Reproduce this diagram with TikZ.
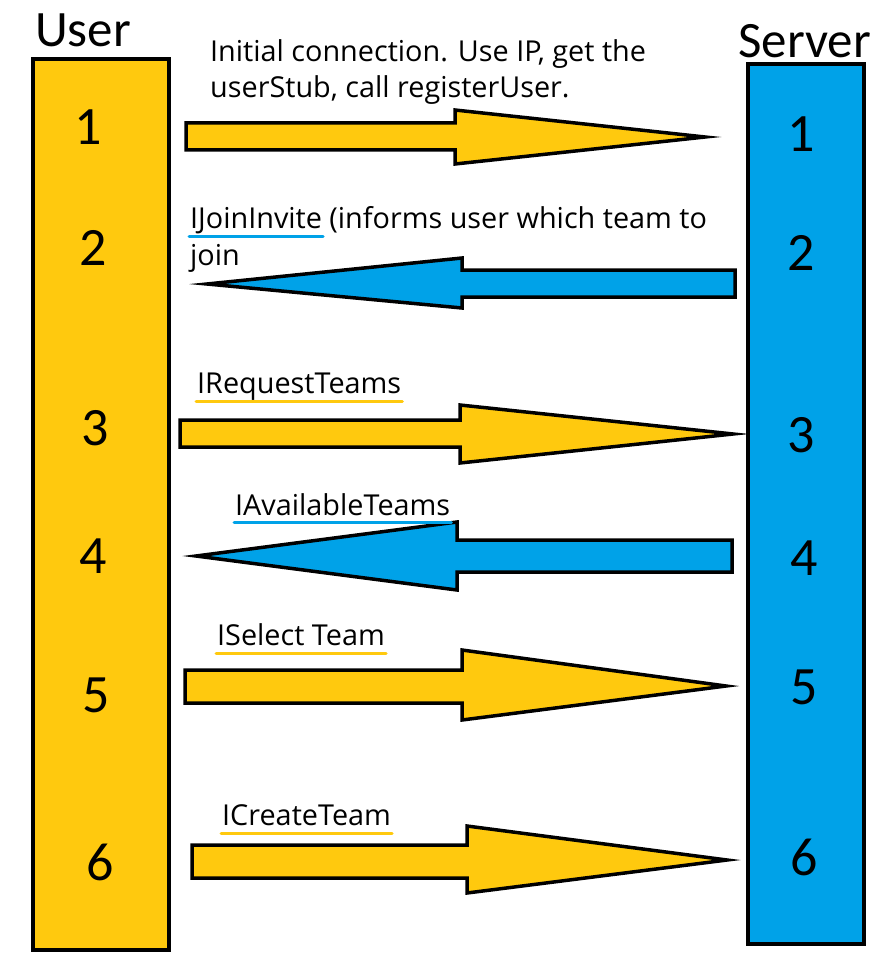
\documentclass[tikz,border=0pt]{standalone}
\usepackage{fontspec}
\setmainfont{Carlito}
\newfontfamily\lblfont{Open Sans}
\usetikzlibrary{calc}
\definecolor{uyel}{HTML}{FFC90E}
\definecolor{sblu}{HTML}{00A2E8}
\begin{document}
\begin{tikzpicture}[x=1pt,y=-1pt,
  lane/.style={draw=black,line width=4pt,inner sep=0pt,anchor=north west},
  blockarr/.style={draw=black,line width=3.5pt,line join=miter,miter limit=30},
  title/.style={font=\fontsize{51}{60}\selectfont,inner sep=0pt,anchor=base west},
  num/.style={font=\fontsize{54}{62}\selectfont,inner sep=0pt,anchor=base},
  lbl/.style={font=\lblfont\fontsize{28.8}{34}\selectfont,inner sep=0pt,anchor=base west},
  uline/.style={draw=#1,line width=3pt,line cap=round}]
\useasboundingbox[fill=white] (0,0) rectangle (887,960);
% lanes
\node[lane,fill=uyel,minimum width=136pt,minimum height=891pt] (user) at (31,57) {};
\node[lane,fill=sblu,minimum width=116pt,minimum height=880pt] (server) at (746,62) {};
\node[title] (usert) at (35,47) {User};
\node[title] (servert) at (738,58) {Server};
% numbers
\node[num] (u1) at (88,145) {1};
\node[num] (u2) at (93,265) {2};
\node[num] (u3) at (95,445) {3};
\node[num] (u4) at (93,573) {4};
\node[num] (u5) at (96,712) {5};
\node[num] (u6) at (100,880) {6};
\node[num] (s1) at (801,152) {1};
\node[num] (s2) at (801,270) {2};
\node[num] (s3) at (801,452) {3};
\node[num] (s4) at (804,575) {4};
\node[num] (s5) at (804,704) {5};
\node[num] (s6) at (804,875) {6};
% block arrows
\filldraw[blockarr,fill=uyel] (186,123) -- (455,123) -- (455,110) -- (705,137) -- (455,164) -- (455,150) -- (186,150) -- cycle;
\filldraw[blockarr,fill=sblu] (735,270) -- (462,270) -- (462,258) -- (207,284) -- (462,308) -- (462,297) -- (735,297) -- cycle;
\filldraw[blockarr,fill=uyel] (180,420) -- (460,420) -- (460,405) -- (733,434) -- (460,463) -- (460,447) -- (180,447) -- cycle;
\filldraw[blockarr,fill=sblu] (732,540) -- (457,540) -- (457,522) -- (196,556) -- (457,590) -- (457,572) -- (732,572) -- cycle;
\filldraw[blockarr,fill=uyel] (185,670) -- (462,670) -- (462,650) -- (726,686) -- (462,720) -- (462,703) -- (185,703) -- cycle;
\filldraw[blockarr,fill=uyel] (192,845) -- (467,845) -- (467,826) -- (727,860) -- (467,893) -- (467,878) -- (192,878) -- cycle;
% labels
\node[lbl] (l1a) at (210,62) {Initial connection. Use IP, get the};
\node[lbl] (l1b) at (210,98) {userStub, call registerUser.};
\node[lbl] (l2a) at (190,228) {IJoinInvite};
\node[lbl] (l2b) at ($(l2a.base east)+(7,0)$) {(informs user which team to};
\node[lbl] (l2c) at (190,265) {join};
\node[lbl] (l3) at (197,393) {IRequestTeams};
\node[lbl] (l4) at (235,515) {IAvailableTeams};
\node[lbl] (l5) at (217,645) {ISelect Team};
\node[lbl] (l6) at (222,825) {ICreateTeam};
% underlines
\draw[uline=sblu] ($(l2a.base west)+(-1,8)$) -- ($(l2a.base east)+(1,8)$);
\draw[uline=uyel] ($(l3.base west)+(-1,8)$) -- ($(l3.base east)+(1,8)$);
\draw[uline=sblu] ($(l4.base west)+(-1,7)$) -- ($(l4.base east)+(1,7)$);
\draw[uline=uyel] ($(l5.base west)+(-1,8)$) -- ($(l5.base east)+(1,8)$);
\draw[uline=uyel] ($(l6.base west)+(-1,8)$) -- ($(l6.base east)+(1,8)$);
\end{tikzpicture}
\end{document}
